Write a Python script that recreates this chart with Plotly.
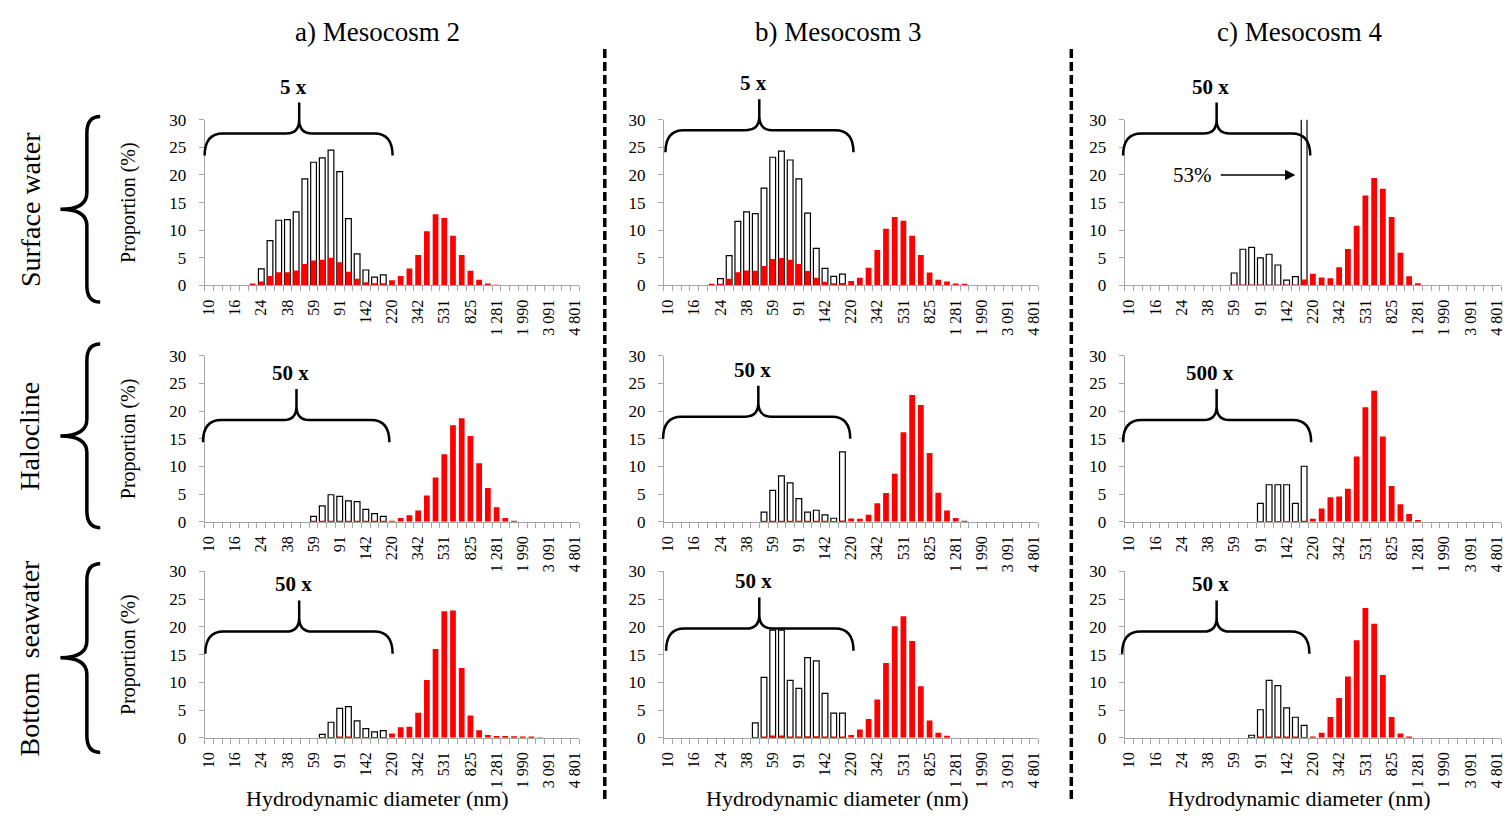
import plotly.graph_objects as go

# Size classes (nm) of the particle-size distribution, 10 nm to 4.8 µm
diameters = [10.1, 11.7, 13.54, 15.69, 18.17, 21.04, 24.36, 28.21, 32.67, 37.84,
             43.82, 50.75, 58.77, 68.06, 78.82, 91.28, 105.7, 122.4, 141.8, 164.2,
             190.1, 220.2, 255.0, 295.3, 342.0, 396.1, 458.7, 531.2, 615.1, 712.4,
             825.0, 955.4, 1106, 1281, 1484, 1718, 1990, 2305, 2669, 3091,
             3580, 4145, 4801]
tick_labels = ["10", "16", "24", "38", "59", "91", "142", "220", "342", "531",
               "825", "1 281", "1 990", "3 091", "4 801"]
label_step = 3

sites = ["a) Mesocosm 2", "b) Mesocosm 3", "c) Mesocosm 4"]
depths = ["Surface water", "Halocline", "Bottom\u00a0 seawater"]
factors = [[5, 5, 50], [50, 50, 500], [50, 50, 50]]

# Magnified fraction for the classes 10-190 nm (% x factor)
mag_m2_surface = [0, 0, 0, 0, 0, 0, 3.0, 8.1, 11.8, 11.9, 13.3, 19.3, 22.3, 23.1, 24.5, 20.6, 12.1, 5.7, 2.8, 1.5, 1.9]
mag_m3_surface = [0, 0, 0, 0, 0, 0, 1.25, 5.4, 11.6, 13.3, 13.0, 17.6, 23.2, 24.3, 22.7, 19.3, 13.1, 6.7, 3.1, 1.65, 2.05]
mag_m4_surface = [0, 0, 0, 0, 0, 0, 0, 0, 0, 0, 0, 0, 2.25, 6.55, 6.9, 5.0, 5.65, 3.7, 0.95, 1.6, 53.0]
mag_m2_halocline = [0, 0, 0, 0, 0, 0, 0, 0, 0, 0, 0, 0, 1.0, 2.9, 4.9, 4.6, 3.8, 3.65, 2.25, 1.5, 1.0]
mag_m3_halocline = [0, 0, 0, 0, 0, 0, 0, 0, 0, 0, 0, 1.75, 5.7, 8.3, 7.05, 4.2, 1.75, 2.1, 1.25, 0.65, 12.65]
mag_m4_halocline = [0, 0, 0, 0, 0, 0, 0, 0, 0, 0, 0, 0, 0, 0, 0, 3.35, 6.7, 6.7, 6.7, 3.35, 10.05]
mag_m2_bottom = [0, 0, 0, 0, 0, 0, 0, 0, 0, 0, 0, 0, 0, 0.6, 2.8, 5.3, 5.6, 3.05, 1.65, 1.05, 1.3]
mag_m3_bottom = [0, 0, 0, 0, 0, 0, 0, 0, 0, 0, 2.7, 10.9, 19.4, 19.4, 10.35, 8.9, 14.45, 13.85, 8.0, 4.45, 4.45]
mag_m4_bottom = [0, 0, 0, 0, 0, 0, 0, 0, 0, 0, 0, 0, 0, 0, 0.45, 5.05, 10.35, 9.4, 5.4, 3.7, 2.25]

# Measured distribution (%)
dist_m2_surface = [0, 0, 0, 0, 0, 0.35, 0.7, 1.7, 2.4, 2.4, 2.7, 3.9, 4.5, 4.65, 5.0, 4.2, 2.5, 1.2, 0.6, 0.4,
                   0.4, 0.95, 1.7, 3.05, 5.5, 9.8, 12.9, 12.2, 9.0, 5.5, 2.65, 1.05, 0.35, 0.1, 0, 0,
                   0, 0, 0, 0, 0, 0, 0]
dist_m3_surface = [0, 0, 0, 0, 0, 0.25, 0.25, 1.2, 2.4, 2.7, 2.65, 3.5, 4.8, 4.95, 4.65, 3.9, 2.6, 1.4, 0.65, 0.4,
                   0.45, 0.8, 1.4, 3.2, 6.4, 10.25, 12.4, 11.7, 9.0, 5.5, 2.35, 1.05, 0.7, 0.35, 0.2, 0,
                   0, 0, 0, 0, 0, 0, 0]
dist_m4_surface = [0, 0, 0, 0, 0, 0, 0, 0, 0, 0, 0, 0, 0.05, 0.13, 0.14, 0.1, 0.11, 0.07, 0.02, 0.03,
                   1.1, 2.1, 1.45, 1.3, 3.3, 6.6, 10.8, 16.3, 19.45, 17.5, 12.4, 5.9, 1.65, 0.4, 0, 0,
                   0, 0, 0, 0, 0, 0, 0]
dist_m2_halocline = [0, 0, 0, 0, 0, 0, 0, 0, 0, 0, 0, 0, 0.02, 0.06, 0.1, 0.09, 0.08, 0.07, 0.05, 0.03,
                     0.02, 0.2, 0.7, 1.2, 2.05, 4.75, 8.0, 12.2, 17.45, 18.7, 15.5, 10.6, 6.1, 2.65, 0.7, 0.2,
                     0, 0, 0, 0, 0, 0, 0]
dist_m3_halocline = [0, 0, 0, 0, 0, 0, 0, 0, 0, 0, 0, 0.04, 0.11, 0.17, 0.14, 0.08, 0.04, 0.04, 0.03, 0.01,
                     0.25, 0.6, 0.55, 1.3, 3.35, 5.2, 8.7, 16.2, 22.9, 21.1, 12.45, 5.25, 2.05, 0.7, 0.2, 0,
                     0, 0, 0, 0, 0, 0, 0]
dist_m4_halocline = [0, 0, 0, 0, 0, 0, 0, 0, 0, 0, 0, 0, 0, 0, 0, 0.01, 0.01, 0.01, 0.01, 0.01,
                     0.02, 0.55, 2.4, 4.45, 4.6, 6.0, 11.8, 20.7, 23.7, 15.4, 6.5, 3.2, 1.4, 0.35, 0, 0,
                     0, 0, 0, 0, 0, 0, 0]
dist_m2_bottom = [0, 0, 0, 0, 0, 0, 0, 0, 0, 0, 0, 0, 0, 0.01, 0.06, 0.11, 0.11, 0.06, 0.03, 0.02,
                  0.03, 0.75, 1.9, 2.0, 4.5, 10.4, 16.0, 22.8, 22.95, 12.6, 4.0, 1.35, 0.5, 0.3, 0.3, 0.25,
                  0.15, 0.15, 0.05, 0, 0, 0, 0]
dist_m3_bottom = [0, 0, 0, 0, 0, 0, 0, 0, 0, 0, 0.05, 0.22, 0.39, 0.39, 0.21, 0.18, 0.29, 0.28, 0.16, 0.09,
                  0.09, 0.5, 1.5, 3.4, 6.9, 13.5, 20.1, 21.9, 17.45, 9.3, 3.1, 0.9, 0.35, 0, 0, 0,
                  0, 0, 0, 0, 0, 0, 0]
dist_m4_bottom = [0, 0, 0, 0, 0, 0, 0, 0, 0, 0, 0, 0, 0, 0, 0.01, 0.1, 0.21, 0.19, 0.11, 0.07,
                  0.05, 0.1, 0.9, 3.75, 7.15, 11.05, 17.6, 23.4, 20.55, 11.3, 3.75, 0.75, 0.15, 0, 0, 0,
                  0, 0, 0, 0, 0, 0, 0]

magnified = [[mag_m2_surface, mag_m3_surface, mag_m4_surface],
             [mag_m2_halocline, mag_m3_halocline, mag_m4_halocline],
             [mag_m2_bottom, mag_m3_bottom, mag_m4_bottom]]
measured = [[dist_m2_surface, dist_m3_surface, dist_m4_surface],
            [dist_m2_halocline, dist_m3_halocline, dist_m4_halocline],
            [dist_m2_bottom, dist_m3_bottom, dist_m4_bottom]]

# ---- page geometry (pixels) ----
W, H = 1510, 822
SERIF = "Liberation Serif, Times New Roman, serif"
GREY = "#a6a6a6"
col_px = [(201.7, 578.4), (663.3, 1040.0), (1126.7, 1505.0)]
row_px = [(113.3, 283.0), (355.0, 525.0), (575.7, 746.0)]
col_center = [375, 838, 1302]
# brace over the magnified classes: left end, right end, tip (class index), base (%)
brace_geo = [[(-0.5, 21.07, 10.35, 23.5), (-0.31, 21.27, 10.46, 24.1), (-0.69, 20.7, 10.0, 23.5)],
             [(-0.69, 20.7, 10.04, 14.4), (-0.58, 20.9, 10.35, 15.0), (-0.69, 20.8, 10.0, 14.4)],
             [(-0.42, 21.07, 10.35, 15.15), (-0.23, 21.27, 10.46, 15.7), (-0.8, 20.6, 10.0, 15.15)]]
row_brace_px = [(110, 205, 300), (343, 437, 531), (568, 664, 761)]

n = len(diameters)
idx = list(range(n))
YMAX = 30


def px_x(x):
    return x / W


def px_y(y):
    return 1 - y / H


def brace_path(xl, xr, xt, yb):
    """Horizontal curly brace (tip upwards) in axis-domain units."""
    fx = lambda v: (v + 0.5) / n
    fy = lambda v: v / YMAX
    yf, ym, ytip = yb + 4.0, yb + 6.5, yb + 9.6
    rx, rx2 = 2.1, 1.5
    P = lambda x, y: f"{fx(x):.5f},{fy(y):.5f}"
    return (f"M {P(xl, yb)} Q {P(xl, yf)} {P(xl + rx, yf)} L {P(xt - rx2, yf)} "
            f"Q {P(xt, yf)} {P(xt, ym)} L {P(xt, ytip)} "
            f"M {P(xt, ym)} Q {P(xt, yf)} {P(xt + rx2, yf)} L {P(xr - rx, yf)} "
            f"Q {P(xr, yf)} {P(xr, yb)}")


def row_brace_path(top, tip, bottom):
    """Vertical curly brace '{' on the page, in paper units."""
    xe, xv, xt = 96.7, 83.3, 56.7
    r = 17
    P = lambda x, y: f"{px_x(x):.5f},{px_y(y):.5f}"
    return (f"M {P(xe, top)} Q {P(xv, top)} {P(xv, top + r)} L {P(xv, tip - r)} "
            f"Q {P(xv, tip)} {P(xt, tip)} Q {P(xv, tip)} {P(xv, tip + r)} "
            f"L {P(xv, bottom - r)} Q {P(xv, bottom)} {P(xe, bottom)}")


fig = go.Figure()
layout = dict(width=W, height=H, margin=dict(l=0, r=0, t=0, b=0),
              paper_bgcolor="white", plot_bgcolor="white",
              barmode="overlay", showlegend=False,
              font=dict(family=SERIF, color="black"))
annotations = []
shapes = []

for r in range(3):
    for c in range(3):
        k = r * 3 + c + 1
        xa = "x" if k == 1 else f"x{k}"
        ya = "y" if k == 1 else f"y{k}"
        mag = magnified[r][c]
        dist = measured[r][c]

        fig.add_trace(go.Bar(
            x=idx[:len(mag)], y=[v if v else None for v in mag], width=0.66,
            marker=dict(color="white", line=dict(color="black", width=1.2)),
            xaxis=xa, yaxis=ya, hoverinfo="skip"))
        fig.add_trace(go.Bar(
            x=idx, y=[v if v else None for v in dist], width=0.66,
            marker=dict(color="#ff0000", line=dict(width=0)),
            customdata=diameters,
            hovertemplate="%{customdata} nm: %{y}%<extra></extra>",
            xaxis=xa, yaxis=ya))

        x0, x1 = col_px[c]
        yt, yb = row_px[r]
        layout["xaxis" if k == 1 else f"xaxis{k}"] = dict(
            domain=[px_x(x0), px_x(x1)], anchor=ya, range=[-0.5, n - 0.5],
            tickmode="array", tickvals=idx[::label_step], ticktext=tick_labels,
            tickangle=-90, ticks="", ticklabelstandoff=7,
            tickfont=dict(family=SERIF, size=16, color="black"),
            showline=True, linecolor=GREY, linewidth=1,
            showgrid=False, zeroline=False, fixedrange=True,
            minor=dict(tickmode="array", tickvals=[i - 0.5 for i in range(n + 1)],
                       ticks="outside", ticklen=5, tickcolor=GREY, tickwidth=1,
                       showgrid=False))
        layout["yaxis" if k == 1 else f"yaxis{k}"] = dict(
            domain=[px_y(yb), px_y(yt)], anchor=xa, range=[0, YMAX],
            tickmode="array", tickvals=list(range(0, YMAX + 1, 5)),
            ticks="outside", ticklen=5, tickcolor=GREY, ticklabelstandoff=9,
            tickfont=dict(family=SERIF, size=17, color="black"),
            showline=True, linecolor=GREY, linewidth=1,
            showgrid=False, zeroline=False, fixedrange=True)

        # brace over the magnified classes and its factor label
        xl, xr, xt, base = brace_geo[r][c]
        shapes.append(dict(type="path", xref=f"{xa} domain", yref=f"{ya} domain",
                           path=brace_path(xl, xr, xt, base),
                           line=dict(color="black", width=2.5), layer="above"))
        annotations.append(dict(
            xref=f"{xa} domain", yref=f"{ya} domain",
            x=(xt - 0.7 + 0.5) / n, y=(base + 12.5) / YMAX,
            text=f"<b>{factors[r][c]} x</b>", showarrow=False,
            xanchor="center", yanchor="middle",
            font=dict(family=SERIF, size=21, color="black")))

        if c == 0:
            annotations.append(dict(
                xref="paper", yref="paper", x=px_x(125), y=px_y((yt + yb) / 2),
                text="Proportion (%)", textangle=-90, showarrow=False,
                xanchor="center", yanchor="middle",
                font=dict(family=SERIF, size=20, color="black")))
        if r == 2:
            annotations.append(dict(
                xref="paper", yref="paper", x=px_x(col_center[c]), y=px_y(808),
                text="Hydrodynamic diameter (nm)", showarrow=False,
                xanchor="center", yanchor="middle",
                font=dict(family=SERIF, size=22, color="black")))

# off-scale class in Mesocosm 4 surface water
annotations.append(dict(xref="x3", yref="y3", x=19.0, y=20, ax=10.3, ay=20,
                        axref="x3", ayref="y3", text="", showarrow=True,
                        arrowhead=2, arrowsize=1.3, arrowwidth=1.6,
                        arrowcolor="black", standoff=0, startstandoff=0))
annotations.append(dict(xref="x3", yref="y3", x=7.3, y=20,
                        text=f"{mag_m4_surface[-1]:.0f}%", showarrow=False,
                        xanchor="center", yanchor="middle",
                        font=dict(family=SERIF, size=21, color="black")))

# column titles
for c, title in enumerate(sites):
    annotations.append(dict(xref="paper", yref="paper", x=px_x(col_center[c]), y=px_y(24),
                            text=title, showarrow=False, xanchor="center", yanchor="middle",
                            font=dict(family=SERIF, size=27, color="black")))

# row titles with their braces
for r, name in enumerate(depths):
    top, tip, bottom = row_brace_px[r]
    annotations.append(dict(xref="paper", yref="paper", x=px_x(26), y=px_y(tip),
                            text=name, textangle=-90, showarrow=False,
                            xanchor="center", yanchor="middle",
                            font=dict(family=SERIF, size=28, color="black")))
    shapes.append(dict(type="path", xref="paper", yref="paper",
                       path=row_brace_path(top, tip, bottom),
                       line=dict(color="black", width=3.5)))

# dashed separators between the mesocosms
for xs in (604, 1073):
    shapes.append(dict(type="line", xref="paper", yref="paper",
                       x0=px_x(xs), x1=px_x(xs), y0=px_y(41), y1=px_y(810),
                       line=dict(color="black", width=3.5, dash="9px,4px")))

layout["annotations"] = annotations
layout["shapes"] = shapes
fig.update_layout(**layout)
fig.write_html("out.html")
